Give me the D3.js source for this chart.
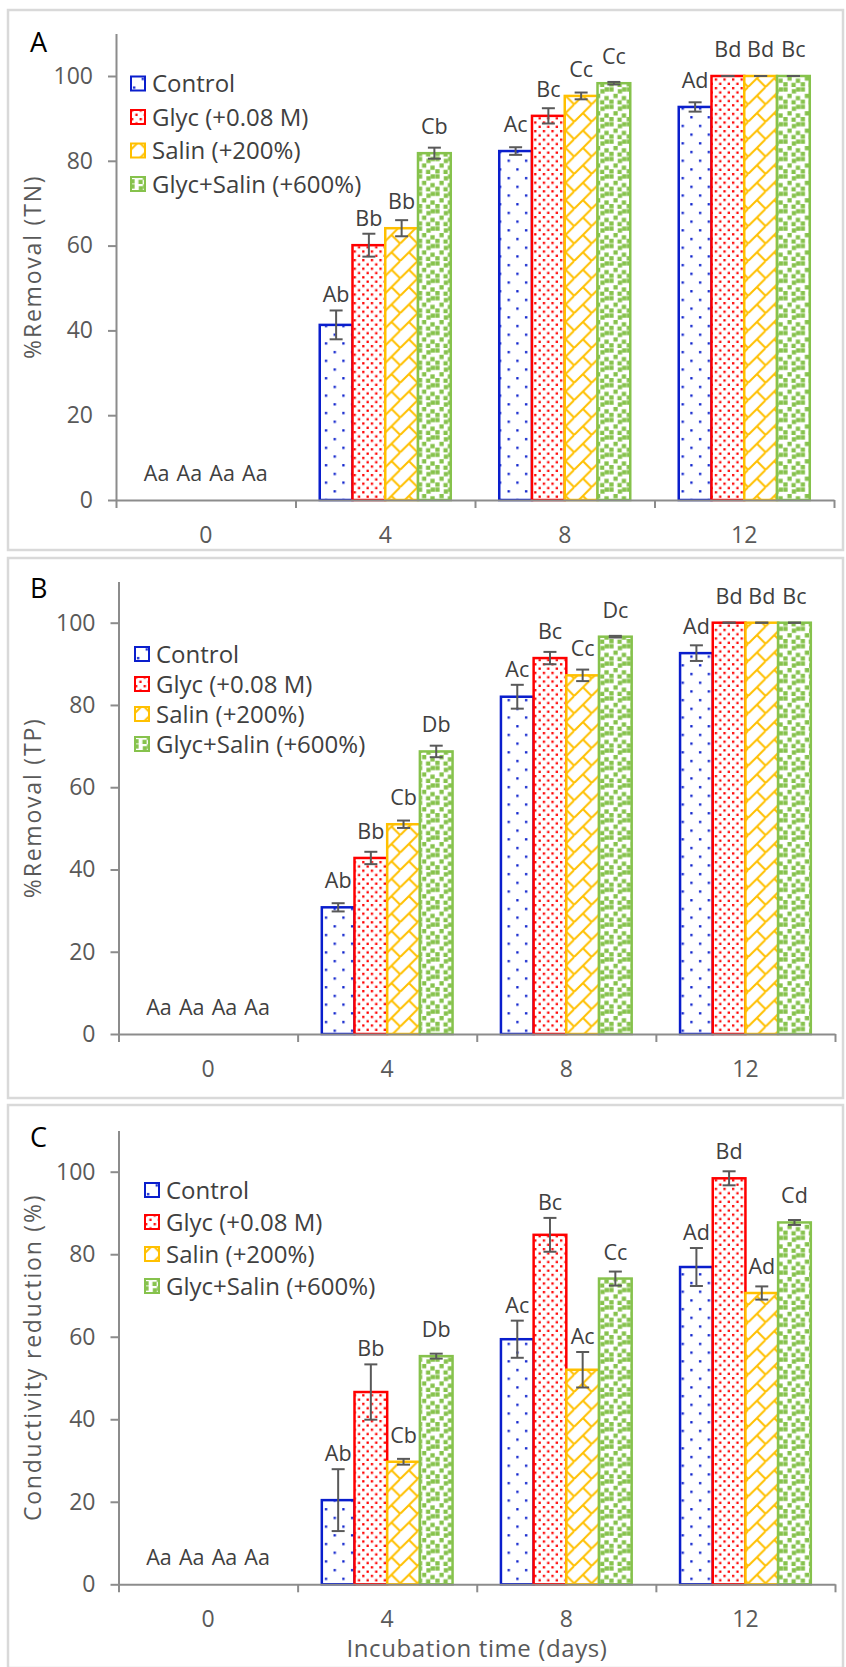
<!DOCTYPE html>
<html>
<head>
<meta charset="utf-8">
<script src="https://cdn.jsdelivr.net/npm/d3@7"></script>
<style>
  body { margin: 0; background: #ffffff; }
  svg text { font-family: "Open Sans", "Noto Sans", sans-serif; }
</style>
</head>
<body>
<div id="chart"></div>
<script>
// DATA - rows are the treatments, columns the incubation days
const days = ["0", "4", "8", "12"];
const treatments = ["Control", "Glyc (+0.08 M)", "Salin (+200%)", "Glyc+Salin (+600%)"];
const yTicks = [0, 20, 40, 60, 80, 100];

const tnValues = [
    [0, 41.3, 82.3, 92.7],
    [0, 60.1, 90.6, 100],
    [0, 64.1, 95.3, 100],
    [0, 81.8, 98.3, 100]
];
const tnErrors = [
    [0, 3.4, 0.9, 1.1],
    [0, 2.7, 1.8, 0],
    [0, 1.9, 0.8, 0],
    [0, 1.3, 0.3, 0]
];
const tnLetters = [
    ["Aa", "Ab", "Ac", "Ad"],
    ["Aa", "Bb", "Bc", "Bd"],
    ["Aa", "Bb", "Cc", "Bd"],
    ["Aa", "Cb", "Cc", "Bc"]
];

const tpValues = [
    [0, 30.8, 82.0, 92.6],
    [0, 42.8, 91.4, 100],
    [0, 51.0, 87.2, 100],
    [0, 68.7, 96.6, 100]
];
const tpErrors = [
    [0, 1.0, 2.9, 1.9],
    [0, 1.5, 1.5, 0],
    [0, 0.9, 1.4, 0],
    [0, 1.4, 0.2, 0]
];
const tpLetters = [
    ["Aa", "Ab", "Ac", "Ad"],
    ["Aa", "Bb", "Bc", "Bd"],
    ["Aa", "Cb", "Cc", "Bd"],
    ["Aa", "Db", "Dc", "Bc"]
];

const ecValues = [
    [0, 20.4, 59.4, 76.9],
    [0, 46.6, 84.7, 98.4],
    [0, 29.7, 52.0, 70.6],
    [0, 55.3, 74.1, 87.7]
];
const ecErrors = [
    [0, 7.5, 4.5, 4.6],
    [0, 6.7, 4.1, 1.7],
    [0, 0.7, 4.3, 1.6],
    [0, 0.6, 1.7, 0.6]
];
const ecLetters = [
    ["Aa", "Ab", "Ac", "Ad"],
    ["Aa", "Bb", "Bc", "Bd"],
    ["Aa", "Cb", "Ac", "Ad"],
    ["Aa", "Db", "Cc", "Cd"]
];

// GLOBAL VARIABLES FOR STYLE
const width = 846;
const height = 1667;
const colors = ["#0a1ecc", "#ff0000", "#ffc000", "#86c24c"];
const axisColor = "#8c8c8c";
const tickTextColor = "#595959";
const labelColor = "#404040";
const errorColor = "#595959";
const frameColor = "#d9d9d9";

// GLOBAL VARIABLES FOR THE THREE PANELS
const panels = [
    {letter: "A", title: "%Removal (TN)", values: tnValues, errors: tnErrors, letters: tnLetters,
     top: 10, bottom: 550, left: 116, right: 834, y0: 500, y100: 76, letterY: 52,
     legendX: 130, legendY: 83.5, legendStep: 33.5},
    {letter: "B", title: "%Removal (TP)", values: tpValues, errors: tpErrors, letters: tpLetters,
     top: 558, bottom: 1098, left: 118.5, right: 835, y0: 1034, y100: 622.7, letterY: 598,
     legendX: 134, legendY: 654, legendStep: 30},
    {letter: "C", title: "Conductivity reduction (%)", values: ecValues, errors: ecErrors, letters: ecLetters,
     top: 1105, bottom: 1668, left: 118.5, right: 835, y0: 1584.3, y100: 1171.7, letterY: 1147,
     legendX: 144, legendY: 1190, legendStep: 32}
];

// ---------------------------------------------------------------------------------
// SET-UP: SVG AND FILL PATTERNS

const svg = d3.select("#chart")
    .append("svg")
    .attr("width", width)
    .attr("height", height);

const defs = svg.append("defs");

// sparse dots for the control
let p0 = defs.append("pattern").attr("id", "pat0")
    .attr("patternUnits", "userSpaceOnUse").attr("width", 17.4).attr("height", 17.4);
p0.append("rect").attr("width", 17.4).attr("height", 17.4).attr("fill", "#fff");
p0.append("rect").attr("x", 3).attr("y", 3).attr("width", 2.3).attr("height", 2.3).attr("fill", colors[0]);
p0.append("rect").attr("x", 11.7).attr("y", 11.7).attr("width", 2.3).attr("height", 2.3).attr("fill", colors[0]);

// dense dots for glycerol
let p1 = defs.append("pattern").attr("id", "pat1")
    .attr("patternUnits", "userSpaceOnUse").attr("width", 8.6).attr("height", 8.6);
p1.append("rect").attr("width", 8.6).attr("height", 8.6).attr("fill", "#fff");
p1.append("rect").attr("x", 1).attr("y", 1).attr("width", 2.3).attr("height", 2.3).attr("fill", colors[1]);
p1.append("rect").attr("x", 5.3).attr("y", 5.3).attr("width", 2.3).attr("height", 2.3).attr("fill", colors[1]);

// diagonal brick for salinity
let p2 = defs.append("pattern").attr("id", "pat2")
    .attr("patternUnits", "userSpaceOnUse").attr("width", 17.4).attr("height", 17.4);
p2.append("rect").attr("width", 17.4).attr("height", 17.4).attr("fill", "#fff");
p2.append("path")
    .attr("d", "M-1,18.4 L18.4,-1 M8.7,8.7 L18.4,18.4 M-1,-1 L0.5,0.5")
    .attr("stroke", colors[2]).attr("stroke-width", 2).attr("fill", "none");

// large confetti for glycerol + salinity
let p3 = defs.append("pattern").attr("id", "pat3")
    .attr("patternUnits", "userSpaceOnUse").attr("width", 17.4).attr("height", 17.4);
p3.append("rect").attr("width", 17.4).attr("height", 17.4).attr("fill", "#fff");
[[0.3, 0.3], [8.8, 2.2], [4.4, 6.8], [12.8, 9], [0.3, 12.6], [8.4, 13.2], [13, 0.3]].forEach(function(d) {
    p3.append("rect").attr("x", d[0]).attr("y", d[1]).attr("width", 4.3).attr("height", 4.3)
        .attr("fill", colors[3]);
});

// ---------------------------------------------------------------------------------
// DRAWING EACH PANEL

panels.forEach(function(p) {
    drawPanel(p);
});

function drawPanel(p) {
    const g = svg.append("g");

    // light grey frame around the panel
    g.append("rect")
        .attr("x", 8)
        .attr("y", p.top)
        .attr("width", 835)
        .attr("height", p.bottom - p.top)
        .attr("fill", "none")
        .attr("stroke", frameColor)
        .attr("stroke-width", 2.5);

    // scales
    const yTop = p.y0 - 110 * (p.y0 - p.y100) / 100;
    const y = d3.scaleLinear().domain([0, 110]).range([p.y0, yTop]);
    const x0 = d3.scaleBand().domain(days).range([p.left, p.right]).padding(0);
    const x1 = d3.scaleBand().domain(d3.range(treatments.length))
        .range([0, x0.bandwidth()]).paddingInner(0).paddingOuter(0.74);

    // bars, one group per treatment
    p.values.forEach(function(row, s) {
        g.append("g").selectAll("rect")
            .data(row)
            .join("rect")
            .attr("x", (d, i) => x0(days[i]) + x1(s))
            .attr("y", d => y(d))
            .attr("width", x1.bandwidth())
            .attr("height", d => y(0) - y(d))
            .attr("fill", `url(#pat${s})`)
            .attr("stroke", d => d > 0 ? colors[s] : "none")
            .attr("stroke-width", 2.5);
    });

    // error bars
    p.values.forEach(function(row, s) {
        row.forEach(function(v, i) {
            if (v === 0) return;
            const e = p.errors[s][i];
            const cx = x0(days[i]) + x1(s) + x1.bandwidth() / 2;
            const eb = g.append("g")
                .attr("stroke", errorColor)
                .attr("stroke-width", 2);
            eb.append("line").attr("x1", cx).attr("x2", cx).attr("y1", y(v - e)).attr("y2", y(v + e));
            eb.append("line").attr("x1", cx - 6.5).attr("x2", cx + 6.5).attr("y1", y(v + e)).attr("y2", y(v + e));
            eb.append("line").attr("x1", cx - 6.5).attr("x2", cx + 6.5).attr("y1", y(v - e)).attr("y2", y(v - e));
        });
    });

    // letters above each bar
    p.values.forEach(function(row, s) {
        g.append("g").selectAll("text")
            .data(row)
            .join("text")
            .attr("x", (d, i) => x0(days[i]) + x1(s) + x1.bandwidth() / 2)
            .attr("y", (d, i) => Math.min(y(d) - 19, y(d + p.errors[s][i]) - 8))
            .attr("text-anchor", "middle")
            .attr("font-size", 21.5)
            .attr("fill", labelColor)
            .text((d, i) => p.letters[s][i]);
    });

    // y axis
    const yAxis = g.append("g")
        .attr("transform", `translate(${p.left},0)`)
        .call(d3.axisLeft(y).tickValues(yTicks).tickSize(8).tickSizeOuter(0).tickPadding(15));
    yAxis.select(".domain").attr("stroke", axisColor).attr("stroke-width", 2);
    yAxis.selectAll(".tick line").attr("stroke", axisColor).attr("stroke-width", 2);
    yAxis.selectAll(".tick text")
        .attr("font-size", 23)
        .attr("fill", tickTextColor)
        .attr("font-family", "Open Sans");

    // x axis: marks between the days, labels centred on them
    const xEdges = d3.scaleLinear().domain([0, days.length]).range([p.left, p.right]);
    const xAxis = g.append("g")
        .attr("transform", `translate(0,${p.y0})`)
        .call(d3.axisBottom(xEdges).ticks(days.length).tickSize(8).tickSizeOuter(0).tickFormat(""));
    xAxis.select(".domain").attr("stroke", axisColor).attr("stroke-width", 2);
    xAxis.selectAll(".tick line").attr("stroke", axisColor).attr("stroke-width", 2);

    g.append("g").selectAll("text")
        .data(days)
        .join("text")
        .attr("x", d => x0(d) + x0.bandwidth() / 2)
        .attr("y", p.y0 + 43)
        .attr("text-anchor", "middle")
        .attr("font-size", 23)
        .attr("fill", tickTextColor)
        .text(d => d);

    // y axis title
    g.append("text")
        .attr("transform", `translate(41,${(p.y0 + yTop) / 2}) rotate(-90)`)
        .attr("text-anchor", "middle")
        .attr("font-size", 23)
        .attr("letter-spacing", 1.8)
        .attr("fill", tickTextColor)
        .text(p.title);

    // panel letter
    g.append("text")
        .attr("x", 30)
        .attr("y", p.letterY)
        .attr("font-size", 27)
        .attr("fill", "#000")
        .text(p.letter);

    // legend
    const legend = g.append("g").selectAll("g")
        .data(treatments)
        .join("g")
        .attr("transform", (d, i) => `translate(${p.legendX},${p.legendY + i * p.legendStep})`);
    legend.append("rect")
        .attr("x", 1)
        .attr("y", -7)
        .attr("width", 14)
        .attr("height", 14)
        .attr("fill", (d, i) => `url(#pat${i})`)
        .attr("stroke", (d, i) => colors[i])
        .attr("stroke-width", 2);
    legend.append("text")
        .attr("x", 22)
        .attr("y", 8.5)
        .attr("font-size", 24)
        .attr("fill", labelColor)
        .text(d => d);
}

// x axis title under the last panel
svg.append("text")
    .attr("x", 477)
    .attr("y", 1657)
    .attr("text-anchor", "middle")
    .attr("font-size", 24)
    .attr("letter-spacing", 0.6)
    .attr("fill", tickTextColor)
    .text("Incubation time (days)");
</script>
</body>
</html>
